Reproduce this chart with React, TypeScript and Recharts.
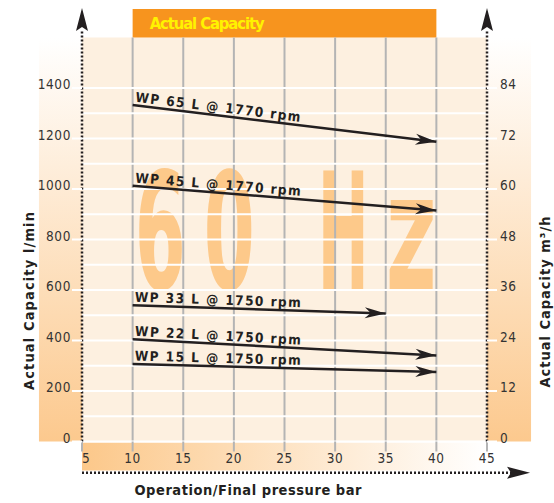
import { ComposedChart, XAxis, YAxis, Line, ReferenceArea, ReferenceLine, ReferenceDot } from "recharts"

const NARROW = "'Liberation Sans Narrow', 'DejaVu Sans Condensed', 'Roboto', sans-serif"
const INK = "#231f20"

// axes
const pressureTicks = [5, 10, 15, 20, 25, 30, 35, 40, 45]
const flowTicks = [0, 200, 400, 600, 800, 1000, 1200, 1400]
const cubicTicks = [0, 12, 24, 36, 48, 60, 72, 84]
const gridFlows = [0, 100, 200, 300, 400, 500, 600, 700, 800, 900, 1000, 1100, 1200, 1300, 1400]
const gridPressures = [10, 15, 20, 25, 30, 35, 40]

// pump curves (l/min at start / end pressure)
const pumpNames = [
  "WP 65 L @ 1770 rpm",
  "WP 45 L @ 1770 rpm",
  "WP 33 L @ 1750 rpm",
  "WP 22 L @ 1750 rpm",
  "WP 15 L @ 1750 rpm",
]
const pressureStart = [10, 10, 10, 10, 10]
const pressureEnd = [40, 40, 35, 40, 40]
const flowStart = [1333, 1013, 540, 405, 307]
const flowEnd = [1187, 915, 507, 341, 275]

const series = pumpNames.map((name, i) => ({
  name,
  data: [
    { p: pressureStart[i], q: flowStart[i] },
    { p: pressureEnd[i], q: flowEnd[i] },
  ],
}))

function makeDot(name: string) {
  return (props: any) => {
    const { cx, cy, index, points } = props
    const pts = points || []
    let ang = 0
    if (pts.length > 1) {
      const a = pts[0]
      const b = pts[pts.length - 1]
      ang = (Math.atan2(b.y - a.y, b.x - a.x) * 180) / Math.PI
    }
    if (index === 0) {
      return (
        <text
          key={name + "-lbl"}
          x={cx + 2}
          y={cy - 3.5}
          transform={`rotate(${ang} ${cx} ${cy})`}
          fontFamily={NARROW}
          fontWeight="bold"
          fontSize={13.5}
          fill={INK}
          textLength={166}
          lengthAdjust="spacing"
        >
          {name}
        </text>
      )
    }
    return (
      <path
        key={name + "-arrow"}
        d="M0 0 L-21 -5.5 L-15 0 L-21 5.5 Z"
        transform={`translate(${cx} ${cy}) rotate(${ang})`}
        fill={INK}
      />
    )
  }
}

const upArrow = (props: any) => (
  <path
    d={`M${props.cx} ${props.cy} L${props.cx + 6} ${props.cy + 23} L${props.cx} ${props.cy + 19} L${props.cx - 6} ${props.cy + 23} Z`}
    fill={INK}
  />
)

const rightArrow = (props: any) => (
  <path
    d={`M${props.cx} ${props.cy} L${props.cx - 23} ${props.cy - 6} L${props.cx - 19} ${props.cy} L${props.cx - 23} ${props.cy + 6} Z`}
    fill={INK}
  />
)

const watermark = (props: any) => {
  const { cx, cy } = props
  const glyphs = [
    { ch: "6", dx: 0 },
    { ch: "0", dx: 69 },
    { ch: "H", dx: 183 },
    { ch: "z", dx: 251 },
  ]
  return (
    <g>
      {glyphs.map((g) => (
        <text
          key={g.ch}
          x={cx + g.dx}
          y={cy}
          fontFamily={NARROW}
          fontWeight="bold"
          fontSize={162}
          fill="#fdc98a"
          textLength={51}
          lengthAdjust="spacingAndGlyphs"
        >
          {g.ch}
        </text>
      ))}
    </g>
  )
}

const LeftTick = (props: any) => (
  <text x={props.x} y={props.y + 1} textAnchor="end" fontFamily={NARROW} fontSize={13.5} fill="#333" letterSpacing={0.6}>
    {props.payload.value}
  </text>
)

const RightTick = (props: any) => (
  <text x={props.x} y={props.y + 1} textAnchor="start" fontFamily={NARROW} fontSize={13.5} fill="#333" letterSpacing={0.6}>
    {props.payload.value}
  </text>
)

const BottomTick = (props: any) => {
  const first = props.payload.value === 5
  return (
    <text
      x={props.x}
      y={props.y + 9}
      textAnchor={first ? "start" : "middle"}
      fontFamily={NARROW}
      fontSize={13.5}
      fill="#333"
      letterSpacing={0.6}
    >
      {props.payload.value}
    </text>
  )
}

const titleStyle = {
  fontFamily: NARROW,
  fontWeight: "bold" as const,
  fontSize: 14.5,
  fill: INK,
}

export default function App() {
  return (
    <div style={{ position: "absolute", left: 0, top: 0, width: 554, height: 503, background: "#fff" }}>
      <svg width={0} height={0} style={{ position: "absolute" }}>
        <defs>
          <linearGradient id="stripV" x1="0" y1="0" x2="0" y2="1">
            <stop offset="0%" stopColor="#ffffff" />
            <stop offset="100%" stopColor="#fcc98e" />
          </linearGradient>
          <linearGradient id="stripH" x1="0" y1="0" x2="1" y2="0">
            <stop offset="0%" stopColor="#fcc88a" />
            <stop offset="100%" stopColor="#ffffff" />
          </linearGradient>
        </defs>
      </svg>
      <ComposedChart width={554} height={503} margin={{ top: 37.5, right: 24, bottom: 31.5, left: 40 }}>
        <XAxis
          xAxisId="p"
          type="number"
          dataKey="p"
          domain={[5, 45]}
          ticks={pressureTicks}
          allowDataOverflow
          height={30}
          axisLine={false}
          tickLine={{ stroke: "#b4b4b4", strokeWidth: 2 }}
          tickSize={10}
          tick={<BottomTick />}
          label={{
            content: (p: any) => (
              <text
                x={p.viewBox.x + 166}
                y={p.viewBox.y + 53.5}
                textAnchor="middle"
                textLength={227}
                lengthAdjust="spacing"
                {...titleStyle}
              >
                Operation/Final pressure bar
              </text>
            ),
          }}
        />
        <YAxis
          yAxisId="q"
          type="number"
          domain={[0, 1600]}
          ticks={flowTicks}
          allowDataOverflow
          width={42}
          axisLine={false}
          tickLine={{ stroke: "#fff", strokeWidth: 2 }}
          tickSize={10}
          tickMargin={1}
          tick={<LeftTick />}
          label={{
            content: (p: any) => (
              <text
                x={p.viewBox.x - 6.5}
                y={301}
                transform={`rotate(-90 ${p.viewBox.x - 6.5} 301)`}
                textAnchor="middle"
                textLength={178}
                lengthAdjust="spacing"
                {...titleStyle}
              >
                Actual Capacity l/min
              </text>
            ),
          }}
        />
        <YAxis
          yAxisId="m3"
          orientation="right"
          type="number"
          domain={[0, 96]}
          ticks={cubicTicks}
          allowDataOverflow
          width={43}
          axisLine={false}
          tickLine={{ stroke: "#fff", strokeWidth: 2 }}
          tickSize={10}
          tickMargin={3}
          tick={<RightTick />}
          label={{
            content: (p: any) => (
              <text
                x={p.viewBox.x + 63}
                y={302}
                transform={`rotate(-90 ${p.viewBox.x + 63} 302)`}
                textAnchor="middle"
                textLength={171}
                lengthAdjust="spacing"
                {...titleStyle}
              >
                Actual Capacity m³/h
              </text>
            ),
          }}
        />

        {/* backgrounds */}
        <ReferenceArea zIndex={-400} xAxisId="p" yAxisId="q" x1={5} x2={45} y1={0} y2={1600} fill="#fdf0e0" fillOpacity={1} ifOverflow="visible" />
        <ReferenceArea zIndex={-400} xAxisId="p" yAxisId="q" x1={0.75} x2={5} y1={0} y2={1600} fill="url(#stripV)" fillOpacity={1} ifOverflow="visible" />
        <ReferenceArea zIndex={-400} xAxisId="p" yAxisId="q" x1={45} x2={49.35} y1={0} y2={1600} fill="url(#stripV)" fillOpacity={1} ifOverflow="visible" />
        <ReferenceArea zIndex={-400} xAxisId="p" yAxisId="q" x1={5} x2={45} y1={-4} y2={-115} fill="url(#stripH)" fillOpacity={1} ifOverflow="visible" />
        <ReferenceArea
          zIndex={-400}
          xAxisId="p"
          yAxisId="q"
          x1={10}
          x2={40}
          y1={1600}
          y2={1713}
          fill="#f7941e"
          fillOpacity={1}
          ifOverflow="visible"
          label={{
            content: (p: any) => (
              <text
                x={p.viewBox.x + 17}
                y={p.viewBox.y + 20.5}
                fontFamily={NARROW}
                fontWeight="bold"
                fontSize={16.5}
                fill="#fff200"
                textLength={115}
                lengthAdjust="spacing"
              >
                Actual Capacity
              </text>
            ),
          }}
        />
        <ReferenceDot zIndex={-350} xAxisId="p" yAxisId="q" x={10.2} y={604} ifOverflow="visible" shape={watermark} />

        {/* grid */}
        {gridPressures.map((v) => (
          <ReferenceLine zIndex={-300} key={"v" + v} xAxisId="p" yAxisId="q" x={v} stroke="#b4b4b4" strokeWidth={2} ifOverflow="visible" />
        ))}
        {gridFlows.map((v) => (
          <ReferenceLine zIndex={-250} key={"h" + v} xAxisId="p" yAxisId="q" y={v} stroke="#ffffff" strokeWidth={2} ifOverflow="visible" />
        ))}

        {/* dotted axes with arrows */}
        <ReferenceLine xAxisId="p" yAxisId="q" segment={[{ x: 5, y: 0 }, { x: 5, y: 1630 }]} stroke={INK} strokeWidth={2.5} strokeDasharray="2 2" ifOverflow="visible" />
        <ReferenceLine xAxisId="p" yAxisId="q" segment={[{ x: 45, y: 0 }, { x: 45, y: 1630 }]} stroke={INK} strokeWidth={2.5} strokeDasharray="2 2" ifOverflow="visible" />
        <ReferenceLine xAxisId="p" yAxisId="q" segment={[{ x: 5, y: -124 }, { x: 47.5, y: -124 }]} stroke={INK} strokeWidth={2.5} strokeDasharray="2 2" ifOverflow="visible" />
        <ReferenceDot xAxisId="p" yAxisId="q" x={5} y={1717} ifOverflow="visible" shape={upArrow} />
        <ReferenceDot xAxisId="p" yAxisId="q" x={45} y={1717} ifOverflow="visible" shape={upArrow} />
        <ReferenceDot xAxisId="p" yAxisId="q" x={49.25} y={-124} ifOverflow="visible" shape={rightArrow} />

        {series.map((s) => (
          <Line
            key={s.name}
            xAxisId="p"
            yAxisId="q"
            data={s.data}
            dataKey="q"
            type="linear"
            stroke={INK}
            strokeWidth={2.5}
            dot={makeDot(s.name)}
            activeDot={false}
            isAnimationActive={false}
          />
        ))}
      </ComposedChart>
    </div>
  )
}
